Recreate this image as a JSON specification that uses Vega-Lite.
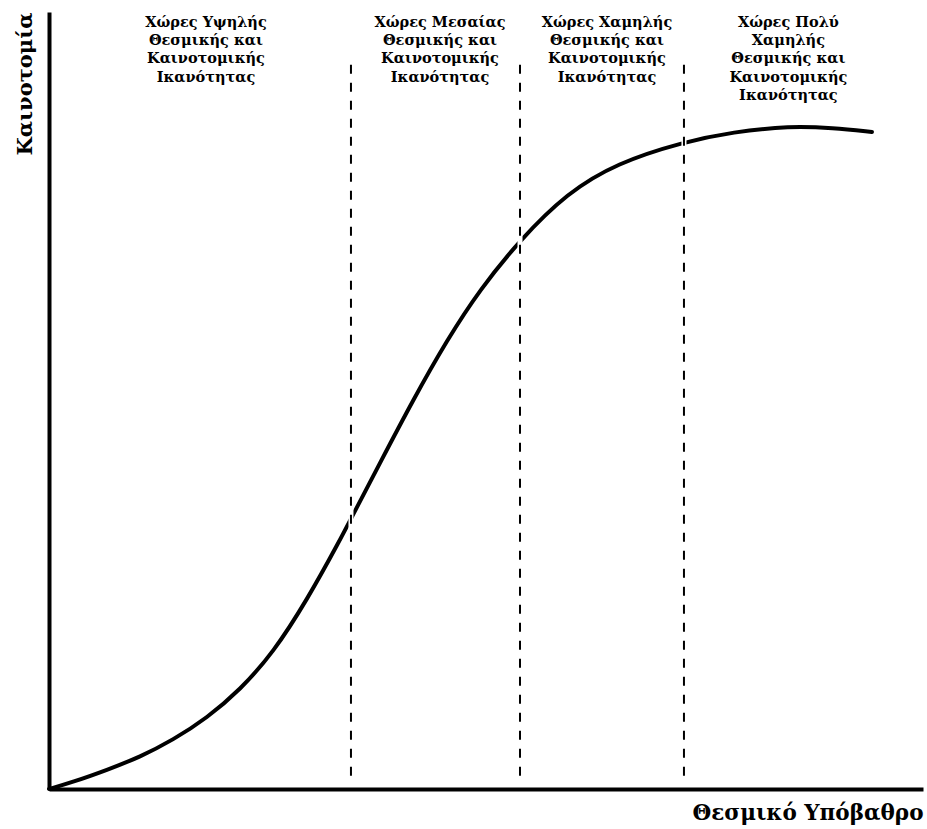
{
  "$schema": "https://vega.github.io/schema/vega-lite/v6.json",
  "width": 874,
  "height": 777,
  "autosize": {"type": "none"},
  "padding": {"left": 49, "top": 12, "right": 4, "bottom": 40},
  "background": "white",
  "config": {"view": {"stroke": null}},
  "datasets": {
    "curve": [
      {"inst": 0, "innov": 0},
      {"inst": 2.75, "innov": 0.9},
      {"inst": 6.64, "innov": 2.45},
      {"inst": 10.41, "innov": 4.12},
      {"inst": 14.19, "innov": 6.31},
      {"inst": 18.08, "innov": 9.14},
      {"inst": 21.85, "innov": 12.74},
      {"inst": 25.63, "innov": 17.5},
      {"inst": 29.52, "innov": 24.32},
      {"inst": 33.3, "innov": 32.05},
      {"inst": 34.78, "innov": 35.3},
      {"inst": 37.87, "innov": 41.96},
      {"inst": 41.65, "innov": 50.06},
      {"inst": 45.54, "innov": 57.79},
      {"inst": 49.31, "innov": 64.3},
      {"inst": 53.89, "innov": 70.66},
      {"inst": 59.27, "innov": 76.71},
      {"inst": 64.99, "innov": 80.57},
      {"inst": 72.54, "innov": 83.27},
      {"inst": 78.26, "innov": 84.56},
      {"inst": 84.78, "innov": 85.33},
      {"inst": 89.7, "innov": 85.07},
      {"inst": 94.16, "innov": 84.56}
    ],
    "dividers": [
      {"inst": 34.55, "top": 93.2, "bottom": 1.2},
      {"inst": 53.89, "top": 93.2, "bottom": 1.2},
      {"inst": 72.65, "top": 93.2, "bottom": 1.2}
    ],
    "labels": [
      {"inst": 17.96, "innov": 98.1, "label": "Χώρες Υψηλής\nΘεσμικής και\nΚαινοτομικής\nΙκανότητας"},
      {"inst": 44.74, "innov": 98.1, "label": "Χώρες Μεσαίας\nΘεσμικής και\nΚαινοτομικής\nΙκανότητας"},
      {"inst": 63.84, "innov": 98.1, "label": "Χώρες Χαμηλής\nΘεσμικής και\nΚαινοτομικής\nΙκανότητας"},
      {"inst": 84.6, "innov": 98.1, "label": "Χώρες Πολύ\nΧαμηλής\nΘεσμικής και\nΚαινοτομικής\nΙκανότητας"}
    ]
  },
  "layer": [
    {
      "data": {"name": "curve"},
      "mark": {"type": "line", "color": "black", "strokeWidth": 4, "interpolate": "basis", "strokeCap": "round"},
      "encoding": {
        "x": {
          "field": "inst", "type": "quantitative",
          "scale": {"domain": [0, 100], "nice": false, "zero": false},
          "axis": {
            "title": "Θεσμικό Υπόβαθρο", "titleFont": "DejaVu Serif", "titleFontWeight": "bold", "titleFontSize": 21.5,
            "titleColor": "black", "titleAnchor": "end", "titlePadding": 13,
            "domainColor": "black", "domainWidth": 4, "ticks": false, "labels": false, "grid": false
          }
        },
        "y": {
          "field": "innov", "type": "quantitative",
          "scale": {"domain": [0, 100], "nice": false, "zero": false},
          "axis": {
            "title": "Καινοτομία", "titleFont": "DejaVu Serif", "titleFontWeight": "bold", "titleFontSize": 21,
            "titleColor": "black", "titleAnchor": "end", "titlePadding": 14,
            "domainColor": "black", "domainWidth": 4, "ticks": false, "labels": false, "grid": false
          }
        }
      }
    },
    {
      "data": {"name": "dividers"},
      "mark": {"type": "rule", "color": "white", "strokeWidth": 5},
      "encoding": {
        "x": {"field": "inst", "type": "quantitative"},
        "y": {"field": "top", "type": "quantitative"},
        "y2": {"field": "bottom"}
      }
    },
    {
      "data": {"name": "dividers"},
      "mark": {"type": "rule", "color": "black", "strokeWidth": 2, "strokeDash": [9, 9]},
      "encoding": {
        "x": {"field": "inst", "type": "quantitative"},
        "y": {"field": "top", "type": "quantitative"},
        "y2": {"field": "bottom"}
      }
    },
    {
      "data": {"name": "labels"},
      "mark": {"type": "text", "font": "DejaVu Serif", "fontWeight": "bold", "fontSize": 14.5, "lineBreak": "\n", "lineHeight": 18.3, "align": "center", "baseline": "alphabetic", "color": "black"},
      "encoding": {
        "x": {"field": "inst", "type": "quantitative"},
        "y": {"field": "innov", "type": "quantitative"},
        "text": {"field": "label"}
      }
    }
  ]
}
